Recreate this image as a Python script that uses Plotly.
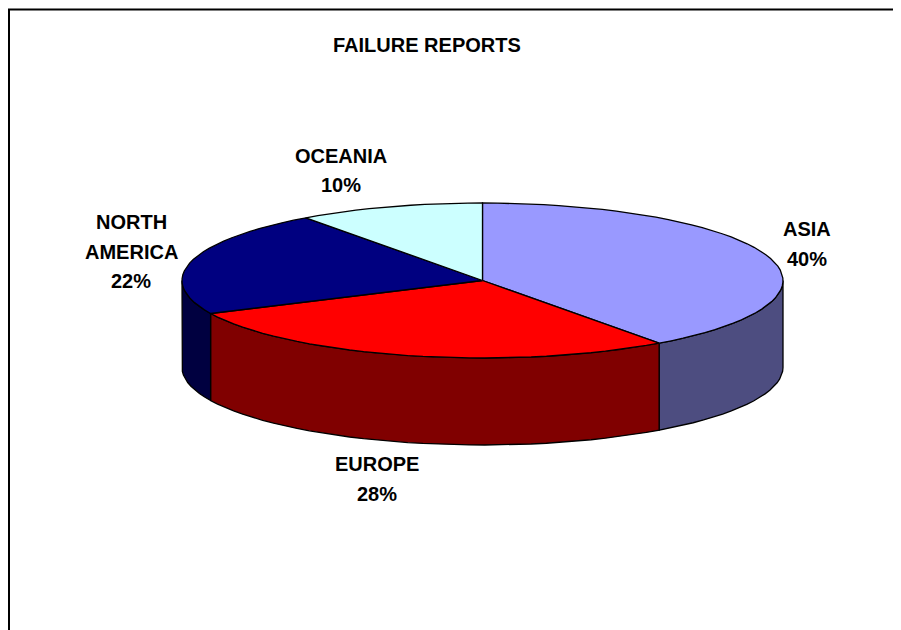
import numpy as np
import plotly.graph_objects as go

# ---- data ----
categories = ["ASIA", "EUROPE", "NORTH AMERICA", "OCEANIA"]
values = [40, 28, 22, 10]
title_text = "FAILURE REPORTS"

# ---- styles ----
top_colors = ["#9999FF", "#FF0000", "#000080", "#CCFFFF"]
side_colors = ["#4D4D80", "#800000", "#000040", "#668080"]
label_pos = {  # center x, first-line center y (page pixels)
    "ASIA": (807, 229),
    "EUROPE": (377, 464),
    "NORTH AMERICA": (131, 222),
    "OCEANIA": (341, 155.5),
}
LINE_H = 29.5
FONT = "Arial, Liberation Sans, sans-serif"
OFF = 8  # page body margin compensation

# pie geometry (page pixel space)
CX, CY, RX, RY, DEPTH = 482.5, 280.5, 300.5, 77.5, 87


def arc(a0, a1, dy=0.0, n=120):
    th = np.radians(np.linspace(a0, a1, max(2, int(n * (a1 - a0) / 360) + 2)))
    return CX + RX * np.sin(th), CY - RY * np.cos(th) + dy


total = float(sum(values))
bounds = []
acc = 0.0
for v in values:
    a0 = acc / total * 360.0
    acc += v
    a1 = acc / total * 360.0
    bounds.append((a0, a1))

fig = go.Figure()

# sides (visible front half: 90..270 degrees clockwise from top)
for (a0, a1), col in zip(bounds, side_colors):
    lo, hi = max(a0, 90.0), min(a1, 270.0)
    if lo >= hi:
        continue
    xt, yt = arc(lo, hi)
    xb, yb = arc(lo, hi, dy=DEPTH)
    xs = np.concatenate([xt, xb[::-1], xt[:1]])
    ys = np.concatenate([yt, yb[::-1], yt[:1]])
    fig.add_trace(go.Scatter(x=xs, y=ys, mode="lines", fill="toself",
                             fillcolor=col, line=dict(color="black", width=1.3),
                             hoverinfo="skip"))

# top faces
for (a0, a1), col in zip(bounds, top_colors):
    xa, ya = arc(a0, a1)
    xs = np.concatenate([[CX], xa, [CX]])
    ys = np.concatenate([[CY], ya, [CY]])
    fig.add_trace(go.Scatter(x=xs, y=ys, mode="lines", fill="toself",
                             fillcolor=col, line=dict(color="black", width=1.3),
                             hoverinfo="skip"))

annotations = []
for cat, v in zip(categories, values):
    pct = round(v / total * 100)
    lines = cat.split(" ") + [f"{pct}%"]
    x0, y0 = label_pos[cat]
    for i, ln in enumerate(lines):
        annotations.append(dict(x=x0, y=y0 + i * LINE_H, text=f"<b>{ln}</b>",
                                showarrow=False, xanchor="center", yanchor="middle",
                                font=dict(family=FONT, size=20, color="black")))

annotations.append(dict(x=427, y=45, text=f"<b>{title_text}</b>", showarrow=False,
                        xanchor="center", yanchor="middle",
                        font=dict(family=FONT, size=20, color="black")))

shapes = [
    dict(type="path", path="M 7,640 L 7,7.5 L 910,7.5", xref="x", yref="y",
         line=dict(color="#BBBBBB", width=1)),
    dict(type="path", path="M 9,640 L 9,9.5 L 910,9.5", xref="x", yref="y",
         line=dict(color="black", width=2)),
]

fig.update_layout(
    width=901, height=630,
    margin=dict(l=0, r=0, t=0, b=0),
    paper_bgcolor="white", plot_bgcolor="white",
    showlegend=False,
    xaxis=dict(range=[OFF, 901 + OFF], visible=False, fixedrange=True),
    yaxis=dict(range=[630 + OFF, OFF], visible=False, fixedrange=True),
    annotations=annotations,
    shapes=shapes,
)

fig.write_html("out.html")
